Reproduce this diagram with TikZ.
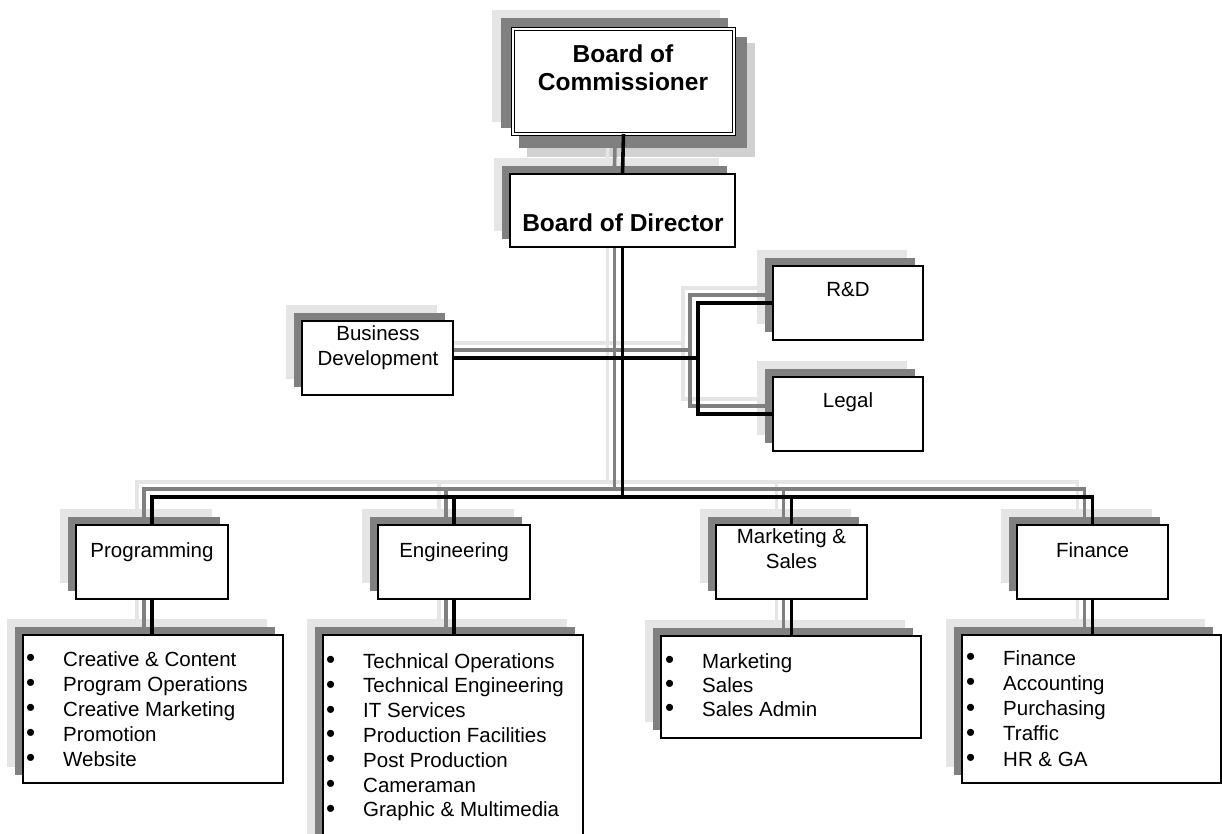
\documentclass[tikz,border=0pt]{standalone}
\usepackage{fontspec}
\setmainfont{Liberation Sans}
\pgfdeclarelayer{light}
\pgfdeclarelayer{dark}
\pgfsetlayers{light,dark,main}
\definecolor{shadelight}{gray}{0.9}
\definecolor{shadedark}{gray}{0.5}
\definecolor{shadebr}{gray}{0.82}
\newcommand\bul{\makebox[37pt][l]{\raisebox{-0.5pt}{\fontsize{26}{25}\selectfont\textbullet}}}
\newcommand\orgwires[1]{%
  \draw[wire,#1] (boc.south) -- (bod.north);
  \draw[wire,#1] (bod.south) -- (bus);
  \draw[wire,#1] (prog.north) |- (bus) -| (fin.north);
  \draw[wire,#1] (eng.north) -- (eng.north |- bus);
  \draw[wire,#1] (mkt.north) -- (mkt.north |- bus);
  \draw[wire,#1] (prog.south) -- (prog.south |- progl.north);
  \draw[wire,#1] (eng.south) -- (eng.south |- engl.north);
  \draw[wire,#1] (mkt.south) -- (mkt.south |- mktl.north);
  \draw[wire,#1] (fin.south) -- (fin.south |- finl.north);
  \draw[wire,#1] (bd.east) -- (jn);
  \draw[wire,#1] (rd.west) -| (jn) |- (legal.west);
}
\begin{document}
\begin{tikzpicture}[x=1pt,y=-1pt,
  box/.style={draw=black, line width=2pt, fill=white, inner sep=0pt, outer sep=0pt, anchor=north west},
  wire/.style={line width=3.6pt, line join=miter},
  lbl/.style={anchor=base, inner sep=0pt, font=\fontsize{20.5}{25}\selectfont, align=center},
  item/.style={anchor=base west, inner sep=0pt, font=\fontsize{20.5}{25}\selectfont}]
\useasboundingbox (0,0) rectangle (1222,833);

% boxes
\node[box, line width=1.3pt, double=white, double distance=1.2pt, minimum width=221pt, minimum height=105pt] (boc) at (513,29) {};
\node[box, minimum width=225pt, minimum height=73pt] (bod) at (510,174) {};
\node[box, minimum width=151pt, minimum height=74pt] (bd) at (302,321) {};
\node[box, minimum width=150pt, minimum height=74pt] (rd) at (773,266) {};
\node[box, minimum width=150pt, minimum height=74pt] (legal) at (773,377) {};
\node[box, minimum width=152pt, minimum height=74pt] (prog) at (76,525) {};
\node[box, minimum width=152pt, minimum height=74pt] (eng) at (378,525) {};
\node[box, minimum width=151pt, minimum height=74pt] (mkt) at (716,525) {};
\node[box, minimum width=151pt, minimum height=74pt] (fin) at (1017,525) {};
\node[box, minimum width=260pt, minimum height=148pt] (progl) at (23,635) {};
\node[box, minimum width=260pt, minimum height=230pt] (engl) at (323,635) {};
\node[box, minimum width=260pt, minimum height=102pt] (mktl) at (661,636) {};
\node[box, minimum width=259pt, minimum height=148pt] (finl) at (962,635) {};

\coordinate (bus) at (622.5,497);
\coordinate (jn) at (698,358);

% texts (base of a two-line node = baseline of its last line)
\node[lbl, font=\bfseries\fontsize{24.5}{28}\selectfont] (boct) at (623,90) {Board of\\Commissioner};
\node[lbl, font=\bfseries\fontsize{24.5}{28}\selectfont] (bodt) at (623,231) {Board of Director};
\node[lbl] (bdt) at (378,365) {Business\\Development};
\node[lbl] (rdt) at (848,296) {R\&D};
\node[lbl] (legalt) at (848,407) {Legal};
\node[lbl] (progt) at (152,557) {Programming};
\node[lbl] (engt) at (454,557) {Engineering};
\node[lbl] (mktt) at (791.5,568) {Marketing \&\\Sales};
\node[lbl] (fint) at (1092.5,557) {Finance};

\foreach \t [count=\i] in {Creative \& Content, Program Operations, Creative Marketing, Promotion, Website}
  \node[item] (pl\i) at (26,641+25*\i) {\bul\t};
\foreach \t [count=\i] in {Technical Operations, Technical Engineering, IT Services, Production Facilities, Post Production, Cameraman, Graphic \& Multimedia}
  \node[item] (el\i) at (326,643.2+24.8*\i) {\bul\t};
\foreach \t [count=\i] in {Marketing, Sales, Sales Admin}
  \node[item] (ml\i) at (665,644+24*\i) {\bul\t};
\foreach \t [count=\i] in {Finance, Accounting, Purchasing, Traffic, HR \& GA}
  \node[item] (fl\i) at (966,640+25.2*\i) {\bul\t};

% shadows
\begin{pgfonlayer}{light}
  \foreach \n in {bod,bd,rd,legal,prog,eng,mkt,fin,progl,engl,mktl,finl}
    \fill[shadelight] ([shift={(-16,-16)}]\n.north west) rectangle ([shift={(-16,-16)}]\n.south east);
  \fill[shadelight] ([shift={(-21,-19)}]boc.north west) rectangle ([shift={(-14,-12)}]boc.south east);
  \fill[shadebr] ([shift={(14,14)}]boc.north west) rectangle ([shift={(21,23)}]boc.south east);
  \orgwires{draw=shadelight, transform canvas={shift={(-15,-15)}}}
\end{pgfonlayer}
\begin{pgfonlayer}{dark}
  \foreach \n in {bod,bd,rd,legal,prog,eng,mkt,fin,progl,engl,mktl,finl}
    \fill[shadedark] ([shift={(-8,-8)}]\n.north west) rectangle ([shift={(-8,-8)}]\n.south east);
  \fill[shadedark] ([shift={(-12,-11)}]boc.north west) rectangle ([shift={(-6,-6)}]boc.south east);
  \fill[shadedark] ([shift={(6,8)}]boc.north west) rectangle ([shift={(13,14)}]boc.south east);
  \orgwires{draw=shadedark, transform canvas={shift={(-8,-8)}}}
\end{pgfonlayer}

% connectors
\orgwires{draw=black}
\end{tikzpicture}
\end{document}
